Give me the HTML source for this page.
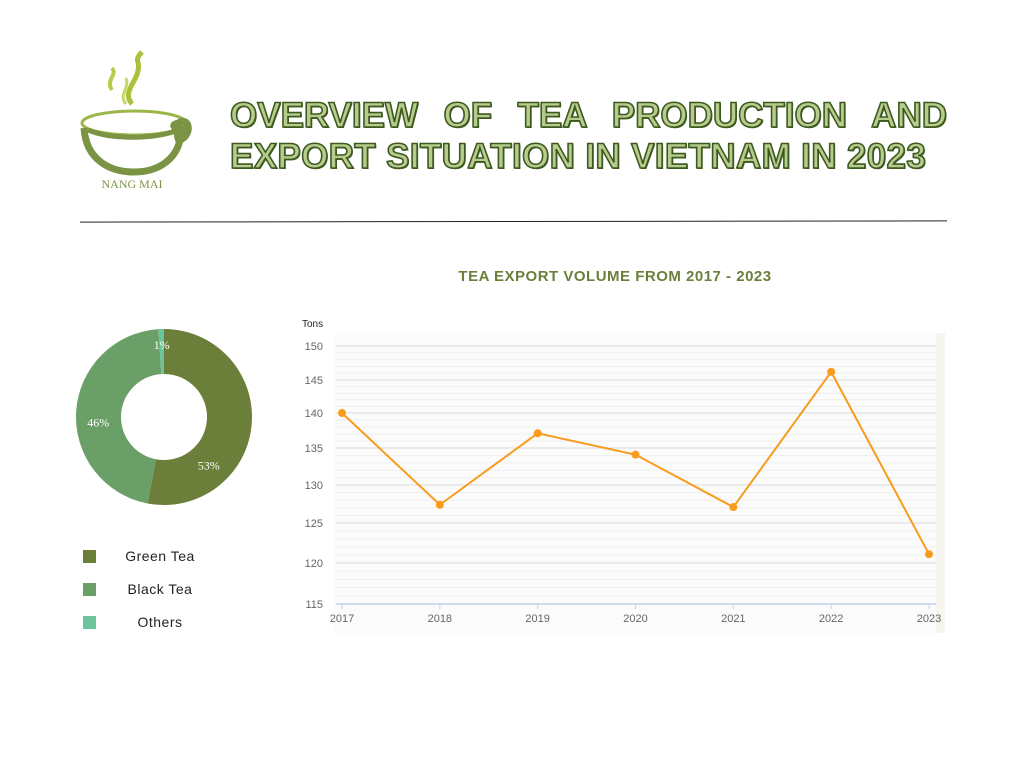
<!DOCTYPE html>
<html><head><meta charset="utf-8"><style>
body{margin:0;background:#fff;font-family:"Liberation Sans",sans-serif}
#page{position:relative;width:1024px;height:768px;overflow:hidden;background:#fff}
.t{position:absolute;left:230px;width:717px;font-weight:bold;font-size:35px;color:#b7cc8c;-webkit-text-stroke:1.6px #3c5a1f;text-shadow:1px 1px 0 #3c5a1f;white-space:nowrap}
.l1{top:96px;text-align:justify;text-align-last:justify;word-spacing:0}
.l2{top:137px;letter-spacing:0.35px}
</style></head><body>
<div id="page">
<svg style="position:absolute;left:75px;top:50px" width="125" height="145" viewBox="75 50 125 145">
 <path d="M112 90 C105 80,118 75,112 68" stroke="#b7cc4a" stroke-width="4" fill="none"/>
 <path d="M132 104 C120 90,142 80,138 62 C136 58,140 54,142 52" stroke="#a8c23a" stroke-width="5" fill="none"/>
 <path d="M126 104 C118 95,130 88,126 78" stroke="#c4d86a" stroke-width="3" fill="none"/>
 <ellipse cx="134" cy="123" rx="52" ry="12" fill="none" stroke="#9db64a" stroke-width="3"/>
 <path d="M84 128 C86 160,110 172,134 172 C160 172,176 158,180 140 C192 135,190 118,180 122 C178 124,170 124,176 128 C186 126,184 136,178 138 C176 132,180 128,184 130" fill="none" stroke="#7a9444" stroke-width="7"/>
 <path d="M88 130 C110 140,160 140,182 128" fill="none" stroke="#7a9444" stroke-width="5"/>
 <text x="132" y="188" text-anchor="middle" font-family="Liberation Serif,serif" font-size="12" fill="#7a9444">NANG MAI</text>
</svg>
<div class="t l1">OVERVIEW OF TEA PRODUCTION AND</div>
<div class="t l2">EXPORT SITUATION IN VIETNAM IN 2023</div>
<div style="position:absolute;left:80px;top:221px;width:867px;height:1px;background:#222;transform:rotate(-0.08deg)"></div>
<div style="position:absolute;left:290px;width:650px;top:268px;text-align:center;font-weight:bold;font-size:15px;color:#6b7f3a;letter-spacing:0.5px">TEA EXPORT VOLUME FROM 2017 - 2023</div>
<svg id="pie" style="position:absolute;left:0;top:0" width="300" height="660"></svg>
<svg id="line" style="position:absolute;left:0;top:0" width="1024" height="660"></svg>
</div>
<script>
const pieLabels=["Green Tea","Black Tea","Others"];
const pieValues=[53,46,1];
const pieColors=["#6b7f3a","#6aa068","#6cc49a"];
const labelFrac=[0.72,0.45,0.5];
const years=["2017","2018","2019","2020","2021","2022","2023"];
const volumes=[140,127.4,137.1,134.1,127.1,146.2,121.1];
const yTicks=[115,120,125,130,135,140,145,150];
const NS="http://www.w3.org/2000/svg";
function mk(p,t,a){const e=document.createElementNS(NS,t);for(const k in a)e.setAttribute(k,a[k]);p.appendChild(e);return e;}
const pie=document.getElementById('pie');
const cx=164,cy=417,R=88,r=43;
let tot=pieValues.reduce((a,b)=>a+b,0),acc=0;
pieValues.forEach((v,i)=>{
 const a0=acc/tot*2*Math.PI-Math.PI/2;acc+=v;const a1=acc/tot*2*Math.PI-Math.PI/2;
 const lg=(a1-a0)>Math.PI?1:0;
 const p=(rad,a)=>[cx+rad*Math.cos(a),cy+rad*Math.sin(a)];
 const [x0,y0]=p(R,a0),[x1,y1]=p(R,a1),[x2,y2]=p(r,a1),[x3,y3]=p(r,a0);
 const s=mk(pie,'path',{d:`M${x0} ${y0}A${R} ${R} 0 ${lg} 1 ${x1} ${y1}L${x2} ${y2}A${r} ${r} 0 ${lg} 0 ${x3} ${y3}Z`,fill:pieColors[i]});
 
 
 const am=a0+(a1-a0)*labelFrac[i],rl=v<5?R-16:66;
 const t=mk(pie,'text',{x:cx+rl*Math.cos(am),y:cy+rl*Math.sin(am)+4,'text-anchor':'middle','font-family':'Liberation Serif,serif','font-size':12,fill:'#fff'});
 t.textContent=v+'%';
 
 
 const ly=556+i*33;
 const sq=mk(pie,'rect',{x:83,y:ly-6,width:13,height:13,fill:pieColors[i]});
 
 
 const lt=mk(pie,'text',{x:160,y:ly+5,'text-anchor':'middle','font-size':14,fill:'#222','letter-spacing':'0.5'});
 lt.textContent=pieLabels[i];
 
 
});
const L=document.getElementById('line');
const tickPx=[604,563,523,485,448,413,380,346];
function yS(v){for(let i=0;i<yTicks.length-1;i++){if(v<=yTicks[i+1]||i==yTicks.length-2){const f=(v-yTicks[i])/(yTicks[i+1]-yTicks[i]);return tickPx[i]+f*(tickPx[i+1]-tickPx[i]);}}}
function xS(i){return 342+i*(929-342)/(years.length-1);}
const bg=mk(L,'rect',{x:335,y:333,width:610,height:300,fill:'#fbfbfb'});


mk(L,'rect',{x:936,y:333,width:9,height:300,fill:'#f6f5ee'});
for(let v=115;v<=150;v++){
 const g=mk(L,'line',{x1:336,x2:936,y1:yS(v),y2:yS(v),stroke:v%5==0?'#e4e4e4':'#efefef','stroke-width':v%5==0?1.5:1});
 
 
}
yTicks.forEach(v=>{
 const t=mk(L,'text',{x:323,y:yS(v)+4,'text-anchor':'end','font-size':11,fill:'#666'});t.textContent=v;
 
 
});
mk(L,'line',{x1:336,x2:936,y1:604,y2:604,stroke:'#c9d3ee','stroke-width':1.5});
years.forEach((y,i)=>{
 mk(L,'line',{x1:xS(i),x2:xS(i),y1:604,y2:609,stroke:'#c9d3ee'});
 const t=mk(L,'text',{x:xS(i),y:622,'text-anchor':'middle','font-size':11,fill:'#666'});t.textContent=y;
 
 
});
const yt=mk(L,'text',{x:302,y:327,'font-size':10,fill:'#222'});yt.textContent='Tons';


const ln=mk(L,'polyline',{points:volumes.map((v,i)=>xS(i)+','+yS(v)).join(' '),fill:'none',stroke:'#f99b1c','stroke-width':2});


volumes.forEach((v,i)=>{
 const c=mk(L,'circle',{cx:xS(i),cy:yS(v),r:4,fill:'#f99b1c'});
 
 
});
</script>
</body></html>
